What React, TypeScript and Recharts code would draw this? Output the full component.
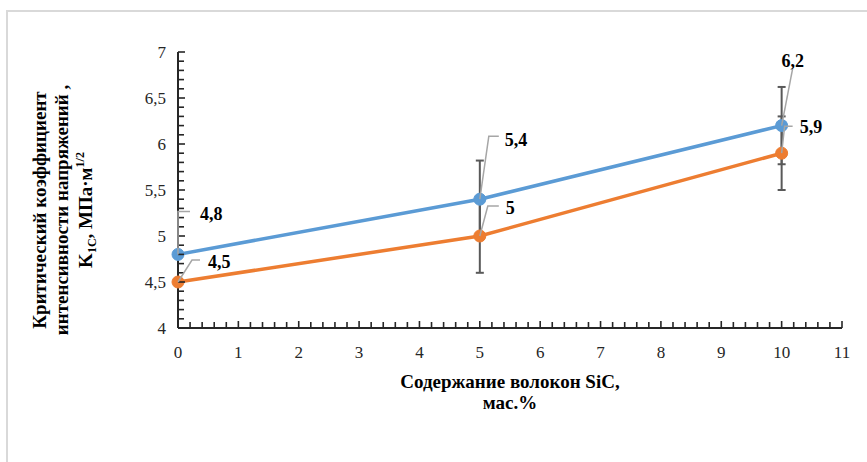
import { LineChart, Line, XAxis, YAxis, ErrorBar, LabelList } from "recharts";

// содержание волокон SiC, мас.%
const fiberContent = [0, 5, 10];
// K1C, МПа·м^1/2
const seriesBlue = [4.8, 5.4, 6.2];
const seriesOrange = [4.5, 5.0, 5.9];
const errBlue = [0, 0.42, 0.42];
const errOrange = [0, 0.4, 0.4];

const xMajor = [0, 1, 2, 3, 4, 5, 6, 7, 8, 9, 10, 11];
const yMajor = [4, 4.5, 5, 5.5, 6, 6.5, 7];

const xMinor = Array.from({ length: 56 }, (_, i) => Math.round(i * 2) / 10);
const yMinor = Array.from({ length: 31 }, (_, i) => Math.round(40 + i) / 10);

// leader line offsets for data labels: elbow (ex, ey), end of leader (hx), text pos (tx, ty)
const blueLabelPos = [
  { ex: 0, ey: -43, hx: 12, tx: 22, ty: -34, anchor: "start" },
  { ex: 9, ey: -63, hx: 19, tx: 25, ty: -53, anchor: "start" },
  { ex: 11, ey: -57, hx: 11, tx: 11, ty: -59, anchor: "middle" },
];
const orangeLabelPos = [
  { ex: 14, ey: -22, hx: 22, tx: 30, ty: -14, anchor: "start" },
  { ex: 8, ey: -30, hx: 19, tx: 26, ty: -22, anchor: "start" },
  { ex: 3, ey: -27, hx: 11, tx: 18, ty: -20, anchor: "start" },
];

const data = fiberContent.map((x, i) => ({
  x,
  blue: seriesBlue[i],
  orange: seriesOrange[i],
  blueErr: errBlue[i],
  orangeErr: errOrange[i],
}));

const FONT = "Liberation Serif, serif";
const AXIS = "#262626";
const fmt = (v: number) => String(v).replace(".", ",");

const isMajor = (v: number, list: number[]) => list.some((m) => Math.abs(m - v) < 1e-6);

function XTick(props: any) {
  const { x, y, payload } = props;
  const v = payload.value;
  const major = isMajor(v, xMajor);
  return (
    <g>
      <line x1={x} x2={x} y1={y} y2={y - (major ? 7 : 6)} stroke={AXIS} strokeWidth={1.6} />
      {major && (
        <text x={x} y={y + 30} textAnchor="middle" style={{ fontFamily: FONT, fontSize: 17 }} fill="#262626">
          {Math.round(v)}
        </text>
      )}
    </g>
  );
}

function YTick(props: any) {
  const { x, y, payload } = props;
  const v = payload.value;
  const major = isMajor(v, yMajor);
  return (
    <g>
      <line x1={x} x2={x + (major ? 7 : 6)} y1={y} y2={y} stroke={AXIS} strokeWidth={1.6} />
      {major && (
        <text x={x - 12} y={y + 6} textAnchor="end" style={{ fontFamily: FONT, fontSize: 17 }} fill="#262626">
          {fmt(Math.round(v * 10) / 10)}
        </text>
      )}
    </g>
  );
}

function makeLabel(pos: typeof blueLabelPos) {
  return (props: any) => {
    const { x, y, value, index } = props;
    const p = pos[index];
    if (!p) return null;
    const ex = x + p.ex;
    const ey = y + p.ey;
    return (
      <g>
        <polyline
          points={`${x},${y} ${ex},${ey} ${x + p.hx},${ey}`}
          fill="none"
          stroke="#a6a6a6"
          strokeWidth={1.5}
        />
        <text
          x={x + p.tx}
          y={y + p.ty}
          textAnchor={p.anchor as any}
          style={{ fontFamily: FONT, fontSize: 18, fontWeight: "bold" }}
          fill="#000"
        >
          {fmt(value)}
        </text>
      </g>
    );
  };
}

export default function App() {
  return (
    <div style={{ position: "fixed", left: 0, top: 0, width: 867, height: 462, overflow: "hidden", background: "#fff" }}>
      <div
        style={{
          position: "absolute",
          left: 6,
          top: 10,
          width: 900,
          height: 500,
          border: "2px solid #d9d9d9",
        }}
      />
      <LineChart
        width={867}
        height={462}
        data={data}
        margin={{ top: 52, right: 25, left: 118, bottom: 104 }}
        style={{ position: "absolute", left: 0, top: 0 }}
      >
        <XAxis
          dataKey="x"
          type="number"
          domain={[0, 11]}
          ticks={xMinor}
          interval={0}
          tickSize={0}
          tickMargin={0}
          tick={<XTick />}
          tickLine={false}
          axisLine={{ stroke: AXIS, strokeWidth: 2 }}
          height={30}
        />
        <YAxis
          type="number"
          domain={[4, 7]}
          ticks={yMinor}
          interval={0}
          tickSize={0}
          tickMargin={0}
          tick={<YTick />}
          tickLine={false}
          axisLine={{ stroke: AXIS, strokeWidth: 2 }}
          width={60}
        />
        <Line
          dataKey="orange"
          stroke="#ed7d31"
          strokeWidth={3.5}
          dot={{ r: 6, fill: "#ed7d31", stroke: "#ed7d31", strokeWidth: 1 }}
          isAnimationActive={false}
        >
          <ErrorBar dataKey="orangeErr" direction="y" width={4} stroke="#595959" strokeWidth={2} />
          <LabelList dataKey="orange" content={makeLabel(orangeLabelPos)} />
        </Line>
        <Line
          dataKey="blue"
          stroke="#5b9bd5"
          strokeWidth={3.5}
          dot={{ r: 6, fill: "#5b9bd5", stroke: "#5b9bd5", strokeWidth: 1 }}
          isAnimationActive={false}
        >
          <ErrorBar dataKey="blueErr" direction="y" width={4} stroke="#595959" strokeWidth={2} />
          <LabelList dataKey="blue" content={makeLabel(blueLabelPos)} />
        </Line>
        <text style={{ fontFamily: FONT, fontSize: 19, fontWeight: "bold" }} fill="#000" textAnchor="middle">
          <tspan x={510} y={388}>Содержание волокон SiC,</tspan>
          <tspan x={510} y={409}>мас.%</tspan>
        </text>
        <g transform="translate(0,210) rotate(-90)">
          <text style={{ fontFamily: FONT, fontSize: 19, fontWeight: "bold" }} fill="#000" textAnchor="middle">
            <tspan x={0} y={46}>Критический коэффициент</tspan>
            <tspan x={0} y={68}>интенсивности напряжений ,</tspan>
            <tspan x={0} y={92}>
              K<tspan fontSize={12} dy={4}>1С</tspan>
              <tspan dy={-4}>, МПа·м</tspan>
              <tspan fontSize={12} dy={-8}>1/2</tspan>
            </tspan>
          </text>
        </g>
      </LineChart>
    </div>
  );
}
